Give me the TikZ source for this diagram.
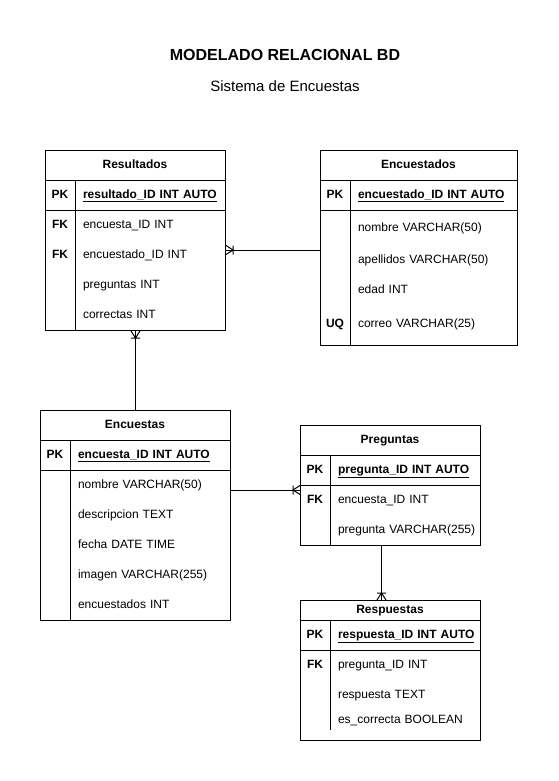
\documentclass[tikz,border=0pt]{standalone}
\usepackage{fontspec}
\setmainfont{Liberation Sans}
\usetikzlibrary{arrows.meta, positioning}
% crow's foot with bar (one or many)
\pgfdeclarearrow{
  name = Crowfoot,
  defaults = {length = 7pt, width = 9pt},
  parameters = {\the\pgfarrowlength,\the\pgfarrowwidth},
  setup code = {
    \pgfarrowssettipend{0pt}
    \pgfarrowssetlineend{0pt}
    \pgfarrowssetvisualbackend{-\pgfarrowlength}
    \pgfarrowssetbackend{-\pgfarrowlength}
    \pgfarrowssavethe\pgfarrowlength
    \pgfarrowssavethe\pgfarrowwidth
  },
  drawing code = {
    \pgfsetdash{}{0pt}
    \pgfpathmoveto{\pgfqpoint{0pt}{.5\pgfarrowwidth}}
    \pgfpathlineto{\pgfqpoint{-\pgfarrowlength}{0pt}}
    \pgfpathlineto{\pgfqpoint{0pt}{-.5\pgfarrowwidth}}
    \pgfpathmoveto{\pgfqpoint{-\pgfarrowlength}{.5\pgfarrowwidth}}
    \pgfpathlineto{\pgfqpoint{-\pgfarrowlength}{-.5\pgfarrowwidth}}
    \pgfusepathqstroke
  }
}
\tikzstyle{entity} = [rectangle, draw=black, line width=1pt, anchor=north west, inner sep=0pt]
\tikzstyle{entname} = [font=\fontsize{12}{14}\selectfont\bfseries, text height=9pt, text depth=3pt, inner sep=0pt]
\tikzstyle{keycol} = [font=\fontsize{12}{14}\selectfont\bfseries, text height=9pt, text depth=3pt, inner sep=0pt]
\tikzstyle{field} = [font=\fontsize{12}{14}\selectfont, text width=140pt, align=left, text height=9pt, text depth=3pt, inner sep=0pt]
\tikzstyle{pkfield} = [field, font=\fontsize{12}{14}\selectfont\bfseries]
\tikzstyle{sep} = [line width=1pt]
\tikzstyle{relation} = [line width=1pt, -{Crowfoot}]

\begin{document}
\begin{tikzpicture}[x=1pt, y=-1pt, node distance=30pt]
\useasboundingbox (0,0) rectangle (559,781);
\node (title) [font=\fontsize{16}{19}\selectfont\bfseries] at (285,55) {MODELADO RELACIONAL BD};
\node (subtitle) [font=\fontsize{15}{18}\selectfont] at (285,86) {Sistema de Encuestas};

% Resultados
\node (resultados) [entity, minimum width=180pt, minimum height=180pt] at (45,150) {};
\draw[sep] (resultados.north west) ++(0,30) -- ++(180,0);
\draw[sep] (resultados.north west) ++(0,60) -- ++(180,0);
\draw[sep] (resultados.north west) ++(30,30) -- ([xshift=30pt]resultados.south west);
\node (resultados-name) [entname] at (135,165) {Resultados};
\node (resultados-pk) [pkfield] at (153,195) {\underline{resultado\_ID INT AUTO}};
\node (resultados-f1) [field, below of=resultados-pk] {encuesta\_ID INT};
\node (resultados-f2) [field, below of=resultados-f1] {encuestado\_ID INT};
\node (resultados-f3) [field, below of=resultados-f2] {preguntas INT};
\node (resultados-f4) [field, below of=resultados-f3] {correctas INT};
\node (resultados-k0) [keycol] at (60,195) {PK};
\node (resultados-k1) [keycol, below of=resultados-k0] {FK};
\node (resultados-k2) [keycol, below of=resultados-k1] {FK};

% Encuestados
\node (encuestados) [entity, minimum width=197pt, minimum height=195pt] at (320,150) {};
\draw[sep] (encuestados.north west) ++(0,30) -- ++(197,0);
\draw[sep] (encuestados.north west) ++(0,60) -- ++(197,0);
\draw[sep] (encuestados.north west) ++(30,30) -- ([xshift=30pt]encuestados.south west);
\node (encuestados-name) [entname] at (418.5,165) {Encuestados};
\node (encuestados-pk) [pkfield] at (428,195) {\underline{encuestado\_ID INT AUTO}};
\node (encuestados-f1) [field, below of=encuestados-pk, yshift=-3pt] {nombre VARCHAR(50)};
\node (encuestados-f2) [field, below of=encuestados-f1, yshift=-2pt] {apellidos VARCHAR(50)};
\node (encuestados-f3) [field, below of=encuestados-f2] {edad INT};
\node (encuestados-f4) [field, below of=encuestados-f3, yshift=-4pt] {correo VARCHAR(25)};
\node (encuestados-k0) [keycol] at (335,195) {PK};
\node (encuestados-k4) [keycol] at (335,324) {UQ};

% Encuestas
\node (encuestas) [entity, minimum width=190pt, minimum height=210pt] at (40,410) {};
\draw[sep] (encuestas.north west) ++(0,30) -- ++(190,0);
\draw[sep] (encuestas.north west) ++(0,60) -- ++(190,0);
\draw[sep] (encuestas.north west) ++(30,30) -- ([xshift=30pt]encuestas.south west);
\node (encuestas-name) [entname] at (135,425) {Encuestas};
\node (encuestas-pk) [pkfield] at (148,455) {\underline{encuesta\_ID INT AUTO}};
\node (encuestas-f1) [field, below of=encuestas-pk] {nombre VARCHAR(50)};
\node (encuestas-f2) [field, below of=encuestas-f1] {descripcion TEXT};
\node (encuestas-f3) [field, below of=encuestas-f2] {fecha DATE TIME};
\node (encuestas-f4) [field, below of=encuestas-f3] {imagen VARCHAR(255)};
\node (encuestas-f5) [field, below of=encuestas-f4] {encuestados INT};
\node (encuestas-k0) [keycol] at (55,455) {PK};

% Preguntas
\node (preguntas) [entity, minimum width=180pt, minimum height=120pt] at (300,425) {};
\draw[sep] (preguntas.north west) ++(0,30) -- ++(180,0);
\draw[sep] (preguntas.north west) ++(0,60) -- ++(180,0);
\draw[sep] (preguntas.north west) ++(30,30) -- ([xshift=30pt]preguntas.south west);
\node (preguntas-name) [entname] at (390,440) {Preguntas};
\node (preguntas-pk) [pkfield] at (408,470) {\underline{pregunta\_ID INT AUTO}};
\node (preguntas-f1) [field, below of=preguntas-pk] {encuesta\_ID INT};
\node (preguntas-f2) [field, below of=preguntas-f1] {pregunta VARCHAR(255)};
\node (preguntas-k0) [keycol] at (315,470) {PK};
\node (preguntas-k1) [keycol, below of=preguntas-k0] {FK};

% Respuestas
\node (respuestas) [entity, minimum width=180pt, minimum height=140pt] at (300,600) {};
\draw[sep] (respuestas.north west) ++(0,20) -- ++(180,0);
\draw[sep] (respuestas.north west) ++(0,50) -- ++(180,0);
\draw[sep] (respuestas.north west) ++(30,20) -- ++(0,110);
\node (respuestas-name) [entname] at (390,610) {Respuestas};
\node (respuestas-pk) [pkfield] at (408,635) {\underline{respuesta\_ID INT AUTO}};
\node (respuestas-f1) [field, below of=respuestas-pk] {pregunta\_ID INT};
\node (respuestas-f2) [field, below of=respuestas-f1] {respuesta TEXT};
\node (respuestas-f3) [field, below of=respuestas-f2, yshift=5pt] {es\_correcta BOOLEAN};
\node (respuestas-k0) [keycol] at (315,635) {PK};
\node (respuestas-k1) [keycol, below of=respuestas-k0] {FK};

% relations
\draw[relation] ([yshift=5pt]encuestados.west |- resultados-f2) -- ([yshift=5pt]resultados.east |- resultados-f2);
\draw[relation] (encuestas.north) -- (resultados.south);
\draw[relation] ([yshift=-5pt]encuestas.east |- encuestas-f1) -- ([yshift=-5pt]preguntas.west |- encuestas-f1);
\draw[relation] ([xshift=-9pt]preguntas.south) -- ([xshift=-9pt]respuestas.north);
\end{tikzpicture}
\end{document}
